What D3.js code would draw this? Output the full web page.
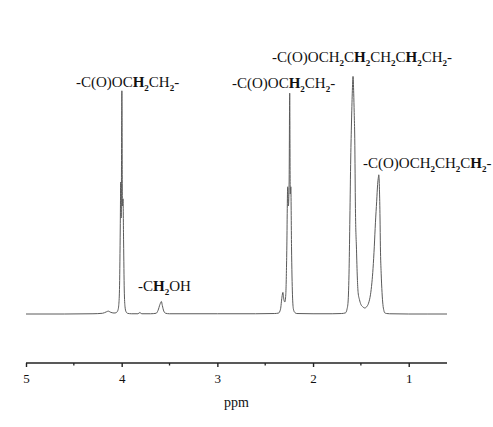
<!DOCTYPE html>
<html>
<head>
<meta charset="utf-8">
<script src="https://cdn.jsdelivr.net/npm/d3@7"></script>
<style>
  html, body { margin: 0; padding: 0; background: #fff; }
  svg { display: block; }
  text { font-family: "Liberation Serif", "Times New Roman", serif; fill: #111; }
</style>
</head>
<body>
<svg id="chart" width="493" height="427"></svg>
<script>
// 1H NMR trace: chemical shift (ppm) and relative intensity, traced point by point
const shiftPpm = [
  5.00, 4.60, 4.30, 4.20, 4.16, 4.14, 4.12, 4.08, 4.06, 4.04, 4.03, 4.022, 4.015, 4.010, 4.005,
  3.998, 3.992, 3.986, 3.980, 3.973, 3.965, 3.955, 3.94, 3.90, 3.83, 3.81, 3.79, 3.70,
  3.64, 3.62, 3.60, 3.585, 3.575, 3.56, 3.54, 3.50, 3.00, 2.60, 2.40,
  2.36, 2.34, 2.325, 2.315, 2.305, 2.295, 2.285, 2.275, 2.265, 2.258, 2.250, 2.244, 2.238,
  2.232, 2.225, 2.215, 2.205, 2.19, 2.17, 2.00, 1.80, 1.70,
  1.66, 1.645, 1.634, 1.623, 1.615, 1.606, 1.598, 1.590, 1.582, 1.575, 1.570, 1.564, 1.557,
  1.546, 1.537, 1.529, 1.515, 1.50, 1.48, 1.46, 1.44, 1.42, 1.40, 1.385, 1.373, 1.36,
  1.348, 1.335, 1.325, 1.317, 1.313, 1.306, 1.300, 1.296, 1.288, 1.279, 1.270, 1.260,
  1.251, 1.23, 1.20, 1.00, 0.80, 0.60
];
const intensity = [
  0.0, 0.0, 0.1, 0.3, 0.9, 1.2, 0.8, 0.4, 0.5, 1.5, 4, 12, 35, 55, 40,
  93, 45, 48, 30, 10, 3, 1, 0.3, 0.1, 0.1, 0.6, 0.1, 0.1,
  0.3, 1.5, 4.0, 5.2, 3.5, 1.2, 0.3, 0.1, 0.1, 0.1, 0.2,
  0.4, 2, 7, 9, 6, 5, 8, 25, 53, 45, 55, 92, 50,
  53, 28, 8, 2, 0.6, 0.2, 0.1, 0.1, 0.2,
  0.5, 2, 5, 19, 40, 65, 80, 92, 99, 92, 84, 73, 44,
  27, 15, 9, 6, 4, 3, 2.5, 3, 4.5, 8, 13, 19, 28,
  38, 47, 54, 57, 58, 52, 40, 28, 17, 9, 4, 1.5,
  0.5, 0.2, 0.1, 0.0, 0.0, 0.0
];

// Axis ticks
const majorTicks = [5, 4, 3, 2, 1];
const minorTicks = [4.5, 3.5, 2.5, 1.5];
const axisTitle = "ppm";

// Peak assignments, as runs of text: b = bold, s = subscript
const labelAcyl1 = [{t: "-C(O)OC"}, {t: "H", b: 1}, {t: "2", s: 1}, {t: "CH"}, {t: "2", s: 1}, {t: "-"}];
const labelOh = [{t: "-C"}, {t: "H", b: 1}, {t: "2", s: 1}, {t: "OH"}];
const labelAcyl2 = [{t: "-C(O)OC"}, {t: "H", b: 1}, {t: "2", s: 1}, {t: "CH"}, {t: "2", s: 1}, {t: "-"}];
const labelChain = [{t: "-C(O)OCH"}, {t: "2", s: 1}, {t: "C"}, {t: "H", b: 1}, {t: "2", s: 1},
  {t: "CH"}, {t: "2", s: 1}, {t: "C"}, {t: "H", b: 1}, {t: "2", s: 1}, {t: "CH"}, {t: "2", s: 1}, {t: "-"}];
const labelEnd = [{t: "-C(O)OCH"}, {t: "2", s: 1}, {t: "CH"}, {t: "2", s: 1}, {t: "C"}, {t: "H", b: 1}, {t: "2", s: 1}, {t: "-"}];

const svg = d3.select("#chart");

const x = d3.scaleLinear().domain([5, 0.6]).range([26, 447]);
const y = d3.scaleLinear().domain([0, 100]).range([314, 74]);

const pts = shiftPpm.map((p, i) => [p, intensity[i]]);

// Spectrum trace
svg.append("path")
  .datum(pts)
  .attr("fill", "none")
  .attr("stroke", "#5a5a5a")
  .attr("stroke-width", 1)
  .attr("stroke-linejoin", "round")
  .attr("d", d3.line().x(d => x(d[0])).y(d => y(d[1])).curve(d3.curveMonotoneX));

// ppm axis
const axisY = 363;
const axisG = svg.append("g").attr("transform", `translate(0,${axisY})`);
axisG.append("g")
  .call(d3.axisBottom(x).tickValues(majorTicks).tickFormat(d3.format("d")).tickSize(4).tickPadding(7))
  .call(g => g.select(".domain").attr("stroke", "#222").attr("stroke-width", 1.4).attr("d", `M${x(5)},0H${x(0.6)}`))
  .call(g => g.selectAll(".tick line").attr("stroke", "#222").attr("stroke-width", 1.4))
  .call(g => g.selectAll(".tick text").attr("font-family", "Liberation Serif, serif").attr("font-size", 13).attr("fill", "#222"));
axisG.append("g")
  .selectAll("line")
  .data(minorTicks)
  .join("line")
  .attr("x1", d => x(d)).attr("x2", d => x(d))
  .attr("y1", 0).attr("y2", 2.5)
  .attr("stroke", "#222").attr("stroke-width", 1.3);

svg.append("text")
  .attr("x", (x(5) + x(0.6)) / 2)
  .attr("y", 407)
  .attr("text-anchor", "middle")
  .attr("font-size", 14)
  .text(axisTitle);

// Annotation text builder
function drawLabel(runs, px, py) {
  const t = svg.append("text").attr("x", px).attr("y", py).attr("font-size", 15);
  let shifted = false;
  runs.forEach(r => {
    const sp = t.append("tspan").text(r.t);
    if (r.b) sp.attr("font-weight", "bold");
    if (r.s) {
      sp.attr("font-size", 9).attr("font-weight", "bold").attr("dy", shifted ? 0 : 3.5);
      shifted = true;
    } else if (shifted) {
      sp.attr("dy", -3.5);
      shifted = false;
    }
  });
}

drawLabel(labelAcyl1, 76, 87);
drawLabel(labelOh, 138, 291);
drawLabel(labelAcyl2, 232, 88);
drawLabel(labelChain, 272, 62);
drawLabel(labelEnd, 363, 168);
</script>
</body>
</html>
